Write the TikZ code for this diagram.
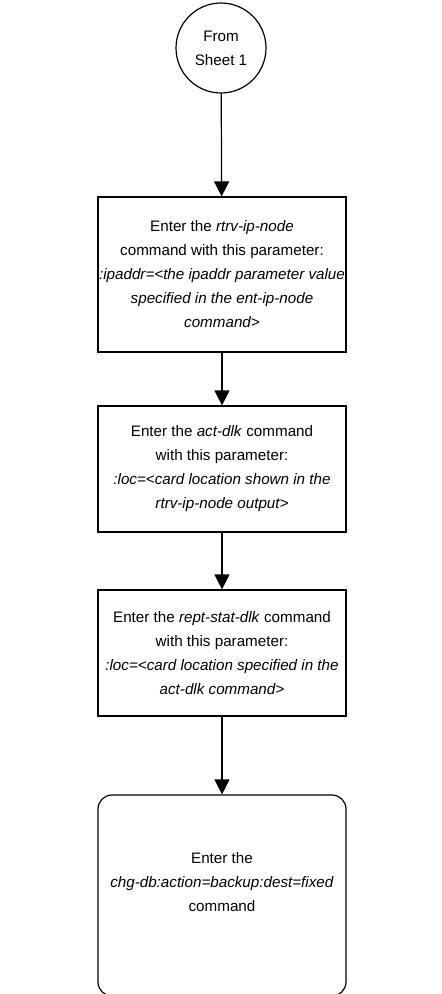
\documentclass[tikz,border=0pt]{standalone}
\usepackage{fontspec}
\setmainfont{Liberation Sans}
\usetikzlibrary{arrows.meta,positioning}

\begin{document}
\begin{tikzpicture}[x=1pt,y=1pt,font=\fontsize{15.2}{24}\selectfont,
  conn/.style={circle,draw,line width=1.2pt,minimum size=90pt,inner sep=0pt,align=center},
  cmd/.style={draw,line width=1.2pt,minimum width=248pt,align=center,inner sep=0.5pt},
  last/.style={cmd,rounded corners=14pt},
  flow/.style={-{Triangle[length=15pt,width=15pt]},line width=1.2pt}]
  \useasboundingbox (0,0) rectangle (442,-994);
  \clip (0,0) rectangle (442,-994);

  % off-page connector
  \node[conn] at (221,-48) (from) {From\\Sheet 1};

  % command boxes
  \node[cmd,minimum height=155pt] at (222,-274.5) (ipnode)
    {Enter the \textit{rtrv-ip-node}\\command with this parameter:\\
     \textit{:ipaddr=<the ipaddr parameter value}\\
     \textit{specified in the ent-ip-node}\\\textit{command>}};
  \node[cmd,minimum height=126pt] at (222,-469) (actdlk)
    {Enter the \textit{act-dlk} command\\with this parameter:\\
     \textit{:loc=<card location shown in the}\\\textit{rtrv-ip-node output>}};
  \node[cmd,minimum height=126pt] at (222,-653) (statdlk)
    {Enter the \textit{rept-stat-dlk} command\\with this parameter:\\
     \textit{:loc=<card location specified in the}\\\textit{act-dlk command>}};
  \node[last,minimum height=201pt] at (222,-895.5) (backup)
    {Enter the\\\textit{chg-db:action=backup:dest=fixed}\\command\\[4pt]};

  \draw[flow] (from) -- (ipnode);
  \draw[flow] (ipnode) -- (actdlk);
  \draw[flow] (actdlk) -- (statdlk);
  \draw[flow] (statdlk) -- (backup);
\end{tikzpicture}
\end{document}
